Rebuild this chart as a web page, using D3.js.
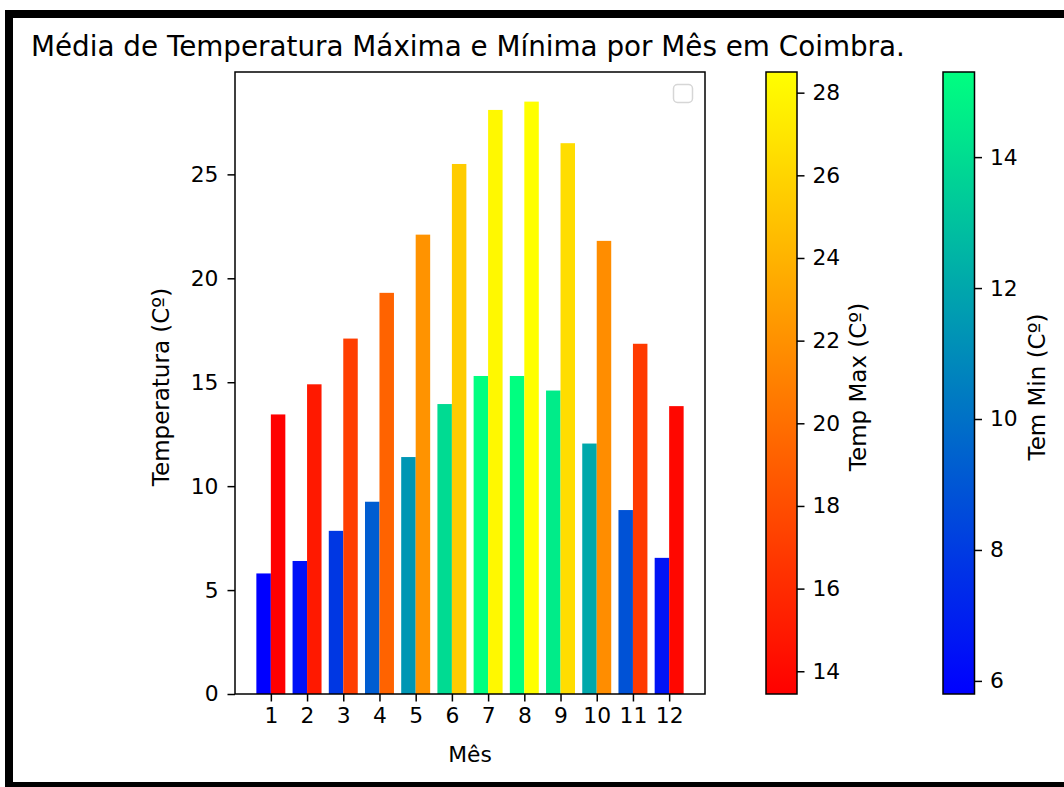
<!DOCTYPE html>
<html>
<head>
<meta charset="utf-8">
<script src="https://cdn.jsdelivr.net/npm/d3@7"></script>
<style>
  html, body { margin: 0; padding: 0; background: #fff; }
  svg { display: block; font-family: "DejaVu Sans", sans-serif; }
</style>
</head>
<body>
<div id="chart"></div>
<script>
// monthly averages for Coimbra
const months = [1, 2, 3, 4, 5, 6, 7, 8, 9, 10, 11, 12];
const tempMax = [13.45, 14.9, 17.1, 19.3, 22.1, 25.5, 28.1, 28.5, 26.5, 21.8, 16.85, 13.85];
const tempMin = [5.8, 6.4, 7.85, 9.25, 11.4, 13.95, 15.3, 15.3, 14.6, 12.05, 8.85, 6.55];
const yTicks = [0, 5, 10, 15, 20, 25];
const maxTicks = [14, 16, 18, 20, 22, 24, 26, 28];
const minTicks = [6, 8, 10, 12, 14];

const title = "Média de Temperatura Máxima e Mínima por Mês em Coimbra.";

const width = 1064, height = 787;
const tickFont = "21.8px";
const labelFont = "23px";

// matplotlib colormaps
const autumn = t => d3.rgb(255, Math.round(255 * t), 0).formatHex();
const winter = t => d3.rgb(0, Math.round(255 * t), Math.round(255 * (1 - 0.5 * t))).formatHex();

const svg = d3.select("#chart").append("svg")
    .attr("width", width)
    .attr("height", height);

// white page with black frame (top, left, bottom)
svg.append("rect").attr("x", 0).attr("y", 0).attr("width", width).attr("height", height).attr("fill", "#fff");
svg.append("rect").attr("x", 5).attr("y", 10).attr("width", width - 5).attr("height", 8).attr("fill", "#000");
svg.append("rect").attr("x", 5).attr("y", 10).attr("width", 8).attr("height", height - 10).attr("fill", "#000");
svg.append("rect").attr("x", 5).attr("y", 782).attr("width", width - 5).attr("height", 5).attr("fill", "#000");

svg.append("text")
    .attr("x", 31)
    .attr("y", 56)
    .style("font-size", "27.8px")
    .attr("fill", "#000")
    .text(title);

// main axes
const plot = { left: 235, right: 705, top: 72, bottom: 694 };
const x = d3.scaleLinear().domain([0.01, 12.99]).range([plot.left, plot.right]);
const y = d3.scaleLinear().domain([0, d3.max(tempMax) * 1.05]).range([plot.bottom, plot.top]);

const maxNorm = d3.scaleLinear().domain(d3.extent(tempMax)).range([0, 1]);
const minNorm = d3.scaleLinear().domain(d3.extent(tempMin)).range([0, 1]);

const barW = 0.4;
const labelMid = (plot.top + plot.bottom) / 2 + 4;

svg.append("g").selectAll("rect")
    .data(months)
    .enter().append("rect")
    .attr("x", (d, i) => x(d - barW))
    .attr("width", x(barW) - x(0))
    .attr("y", (d, i) => y(tempMin[i]))
    .attr("height", (d, i) => y(0) - y(tempMin[i]))
    .attr("fill", (d, i) => winter(minNorm(tempMin[i])));

svg.append("g").selectAll("rect")
    .data(months)
    .enter().append("rect")
    .attr("x", d => x(d))
    .attr("width", x(barW) - x(0))
    .attr("y", (d, i) => y(tempMax[i]))
    .attr("height", (d, i) => y(0) - y(tempMax[i]))
    .attr("fill", (d, i) => autumn(maxNorm(tempMax[i])));

// frame of the axes
svg.append("rect")
    .attr("x", plot.left).attr("y", plot.top)
    .attr("width", plot.right - plot.left).attr("height", plot.bottom - plot.top)
    .attr("fill", "none").attr("stroke", "#000").attr("stroke-width", 1.5);

const xAxis = svg.append("g")
    .attr("transform", `translate(0,${plot.bottom})`)
    .call(d3.axisBottom(x).tickValues(months).tickSize(7.5).tickPadding(6).tickFormat(d3.format("d")));
const yAxis = svg.append("g")
    .attr("transform", `translate(${plot.left},0)`)
    .call(d3.axisLeft(y).tickValues(yTicks).tickSize(7.5).tickPadding(9).tickFormat(d3.format("d")));

[xAxis, yAxis].forEach(a => {
    a.select(".domain").remove();
    a.selectAll("line").attr("stroke", "#000").attr("stroke-width", 1.5);
    a.selectAll("text").style("font-size", tickFont).style("font-family", "DejaVu Sans").attr("fill", "#000");
});

svg.append("text")
    .attr("x", (plot.left + plot.right) / 2)
    .attr("y", 762)
    .attr("text-anchor", "middle")
    .style("font-size", tickFont)
    .text("Mês");

svg.append("text")
    .attr("transform", `translate(169,${labelMid}) rotate(-90)`)
    .attr("text-anchor", "middle")
    .style("font-size", labelFont)
    .text("Temperatura (Cº)");

// empty legend box
svg.append("rect")
    .attr("x", 673.5).attr("y", 84.5).attr("width", 19).attr("height", 18).attr("rx", 4)
    .attr("fill", "#fff").attr("stroke", "#d6d6d6").attr("stroke-width", 1.5);

// colorbars
const defs = svg.append("defs");
function colorbar(id, x0, w, values, cmap, ticks, label, labelX) {
    const ext = d3.extent(values);
    const cy = d3.scaleLinear().domain(ext).range([plot.bottom, plot.top]);
    const grad = defs.append("linearGradient").attr("id", id)
        .attr("x1", 0).attr("y1", 1).attr("x2", 0).attr("y2", 0);
    d3.range(0, 1.0001, 0.1).forEach(t => {
        grad.append("stop").attr("offset", t).attr("stop-color", cmap(t));
    });
    svg.append("rect")
        .attr("x", x0).attr("y", plot.top).attr("width", w).attr("height", plot.bottom - plot.top)
        .attr("fill", `url(#${id})`).attr("stroke", "#000").attr("stroke-width", 1.5);
    const ax = svg.append("g")
        .attr("transform", `translate(${x0 + w},0)`)
        .call(d3.axisRight(cy).tickValues(ticks).tickSize(7.5).tickPadding(8).tickFormat(d3.format("d")));
    ax.select(".domain").remove();
    ax.selectAll("line").attr("stroke", "#000").attr("stroke-width", 1.5);
    ax.selectAll("text").style("font-size", tickFont).style("font-family", "DejaVu Sans").attr("fill", "#000");
    svg.append("text")
        .attr("transform", `translate(${labelX},${labelMid}) rotate(-90)`)
        .attr("text-anchor", "middle")
        .style("font-size", labelFont)
        .text(label);
}

colorbar("gradMax", 766, 31, tempMax, autumn, maxTicks, "Temp Max (Cº)", 866);
colorbar("gradMin", 943, 31.5, tempMin, winter, minTicks, "Tem Min (Cº)", 1045);
</script>
</body>
</html>
